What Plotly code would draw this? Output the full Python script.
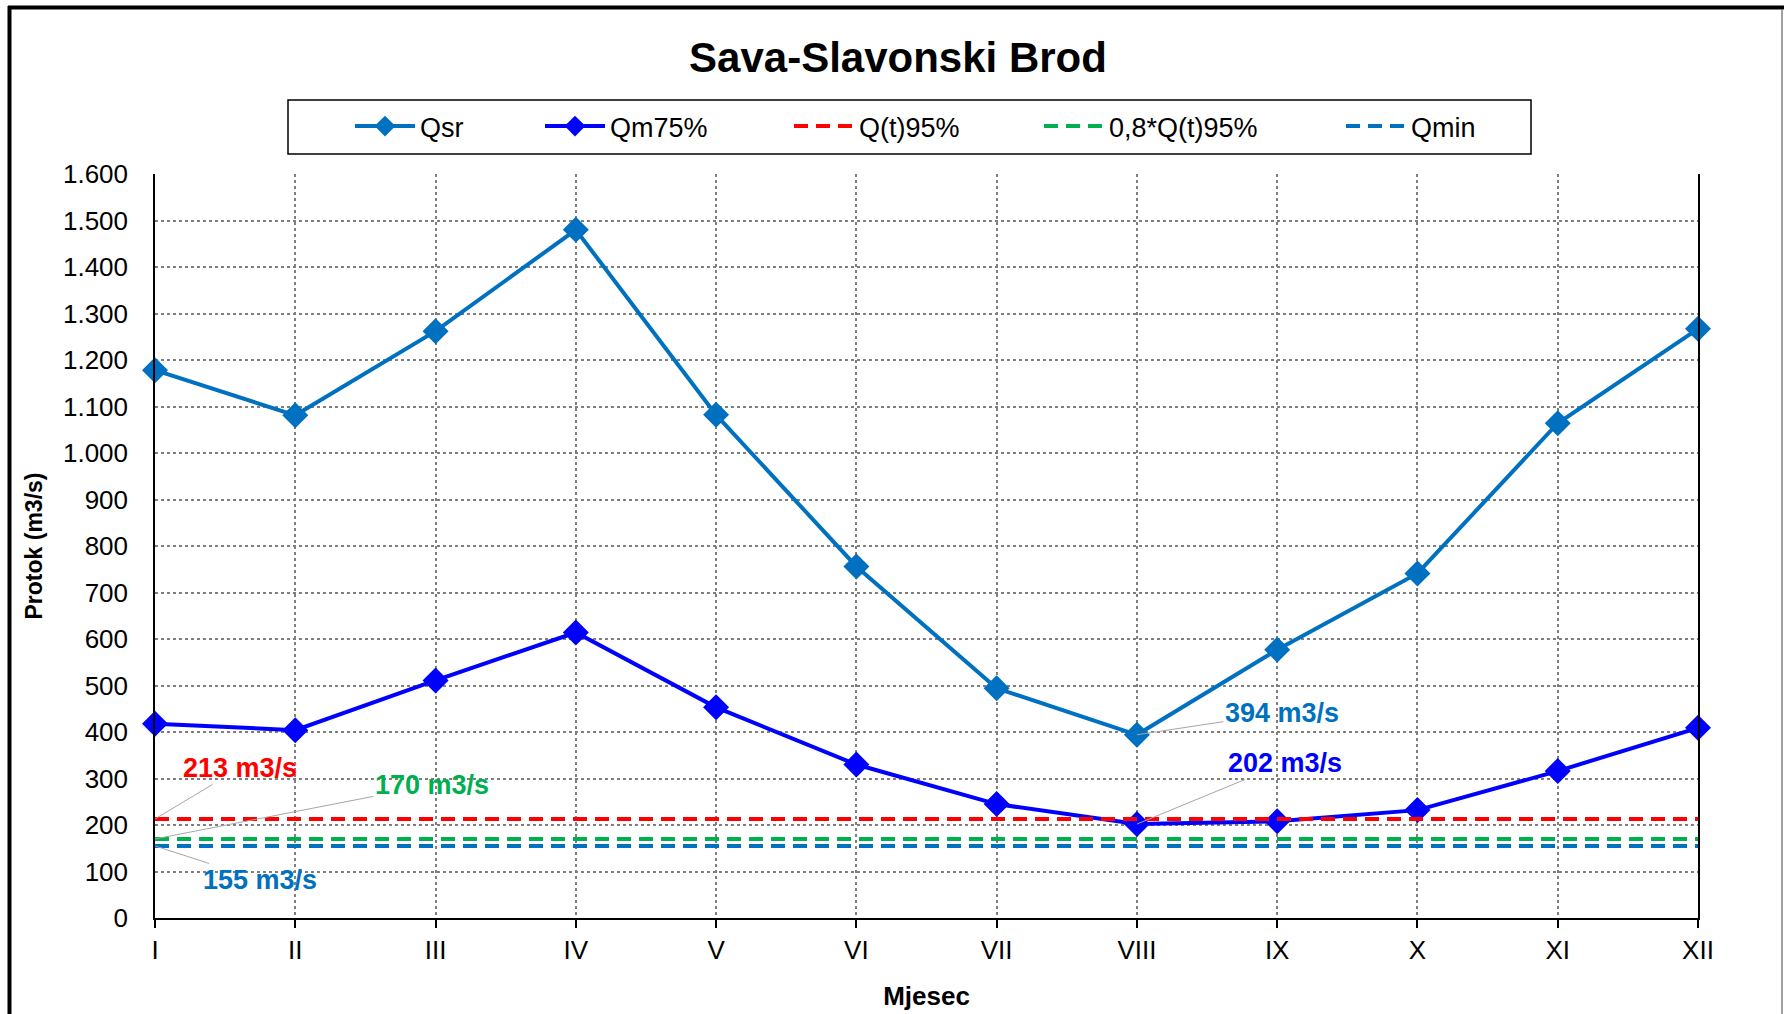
import plotly.graph_objects as go

# ---- data ----
months = ["I", "II", "III", "IV", "V", "VI", "VII", "VIII", "IX", "X", "XI", "XII"]
qsr = [1178, 1081, 1262, 1480, 1082, 756, 494, 394, 577, 741, 1064, 1267]
qm75 = [418, 404, 511, 614, 453, 330, 245, 202, 208, 232, 316, 409]
qt95_value = 213
qt95_08_value = 170
qmin_value = 155
qt95 = [qt95_value] * len(months)
qt95_08 = [qt95_08_value] * len(months)
qmin = [qmin_value] * len(months)

W, H = 1784, 1014
ML, MR, MT, MB = 155, 86, 174, 96
FONT = "Liberation Sans, Arial, sans-serif"

C_QSR = "#0070C0"
C_QM = "#0000FF"
C_RED = "#FF0000"
C_GREEN = "#00B050"
C_QMIN = "#0070C0"

fig = go.Figure()
fig.add_trace(go.Scatter(x=months, y=qsr, name="Qsr", mode="lines+markers",
                         line=dict(color=C_QSR, width=4),
                         marker=dict(symbol="diamond", size=20, color=C_QSR),
                         cliponaxis=False, legend="legend"))
fig.add_trace(go.Scatter(x=months, y=qm75, name="Qm75%", mode="lines+markers",
                         line=dict(color=C_QM, width=4),
                         marker=dict(symbol="diamond", size=20, color=C_QM),
                         cliponaxis=False, legend="legend2"))
fig.add_trace(go.Scatter(x=months, y=qt95, name="Q(t)95%", mode="lines",
                         line=dict(color=C_RED, width=4, dash="14px,8px"),
                         legend="legend3"))
fig.add_trace(go.Scatter(x=months, y=qt95_08, name="0,8*Q(t)95%", mode="lines",
                         line=dict(color=C_GREEN, width=4, dash="14px,8px"),
                         legend="legend4"))
fig.add_trace(go.Scatter(x=months, y=qmin, name="Qmin", mode="lines",
                         line=dict(color=C_QMIN, width=4, dash="14px,8px"),
                         legend="legend5"))

ann_font = dict(family=FONT, size=27)
annotations = [
    dict(x="I", y=qt95_value, text="<b>213 m3/s</b>", ax=85, ay=-51,
         font=dict(ann_font, color=C_RED)),
    dict(x="I", y=qt95_08_value, text="<b>170 m3/s</b>", ax=277, ay=-54,
         font=dict(ann_font, color=C_GREEN)),
    dict(x="I", y=qmin_value, text="<b>155 m3/s</b>", ax=105, ay=34,
         font=dict(ann_font, color=C_QMIN)),
    dict(x="VIII", y=qsr[7], text="<b>394 m3/s</b>", ax=145, ay=-22,
         font=dict(ann_font, color=C_QSR)),
    dict(x="VIII", y=qm75[7], text="<b>202 m3/s</b>", ax=148, ay=-61,
         font=dict(ann_font, color=C_QM)),
]
for a in annotations:
    a.update(xref="x", yref="y", showarrow=True, arrowhead=0, arrowwidth=1,
             arrowcolor="#A6A6A6", standoff=0, startstandoff=0)

# pixel -> paper helpers (layout only)
def px_x(px):
    return (px - ML) / (W - ML - MR)

def px_y(py):
    return 1 - (py - MT) / (H - MT - MB)

shapes = [
    # Excel chart-area border
    dict(type="line", xref="paper", yref="paper", x0=px_x(8), x1=px_x(1784),
         y0=px_y(7.5), y1=px_y(7.5), line=dict(color="black", width=4)),
    dict(type="line", xref="paper", yref="paper", x0=px_x(9.5), x1=px_x(9.5),
         y0=px_y(6), y1=px_y(1014), line=dict(color="black", width=4)),
    dict(type="line", xref="paper", yref="paper", x0=px_x(1782), x1=px_x(1782),
         y0=px_y(9), y1=px_y(1014), line=dict(color="#808080", width=1.5)),
    # legend box
    dict(type="rect", xref="paper", yref="paper", x0=px_x(288), x1=px_x(1531),
         y0=px_y(100), y1=px_y(154), line=dict(color="black", width=1.5),
         fillcolor="white", layer="below"),
]

legend_x = [350, 540, 789, 1039, 1341]
legend_common = dict(orientation="h", xref="container", yref="container",
                     xanchor="left", y=1 - 102 / H, yanchor="top",
                     borderwidth=0, bgcolor="rgba(0,0,0,0)",
                     font=dict(family=FONT, size=27), itemwidth=60)

fig.update_layout(
    width=W, height=H,
    margin=dict(l=ML, r=MR, t=MT, b=MB, autoexpand=False),
    paper_bgcolor="white", plot_bgcolor="white",
    separators=",.",
    font=dict(family=FONT, size=26, color="#000000"),
    title=dict(text="<b>Sava-Slavonski Brod</b>", x=898 / W, xanchor="center",
               y=1 - 57 / H, yanchor="middle", yref="container",
               font=dict(family=FONT, size=42, color="black")),
    legend=dict(legend_common, x=legend_x[0] / W),
    legend2=dict(legend_common, x=legend_x[1] / W),
    legend3=dict(legend_common, x=legend_x[2] / W),
    legend4=dict(legend_common, x=legend_x[3] / W),
    legend5=dict(legend_common, x=legend_x[4] / W),
    xaxis=dict(type="category", range=[0, 11], showgrid=True, automargin=False,
               gridcolor="#7F7F7F", gridwidth=2, griddash="dot",
               showline=True, linecolor="black", linewidth=1.5,
               ticks="outside", ticklen=8, tickcolor="black", tickwidth=1.5,
               tickfont=dict(family=FONT, size=26, color="#000000"),
               title=dict(text="<b>Mjesec</b>", standoff=23,
                          font=dict(family=FONT, size=26))),
    yaxis=dict(range=[0, 1600], dtick=100, tickformat=",d", showgrid=True,
               automargin=False,
               gridcolor="#7F7F7F", gridwidth=2, griddash="dot",
               showline=True, linecolor="black", linewidth=1.5, mirror=True,
               zeroline=False, ticks="", ticklabelstandoff=20,
               tickfont=dict(family=FONT, size=26, color="#000000"),
               title=dict(text="<b>Protok (m3/s)</b>", standoff=14,
                          font=dict(family=FONT, size=23))),
    annotations=annotations,
    shapes=shapes,
    showlegend=True,
)

fig.write_html(
    "out.html",
    config={"displayModeBar": False},
    post_script="document.body.style.margin='0';document.body.style.padding='0';"
                "document.body.style.overflow='hidden';",
)
